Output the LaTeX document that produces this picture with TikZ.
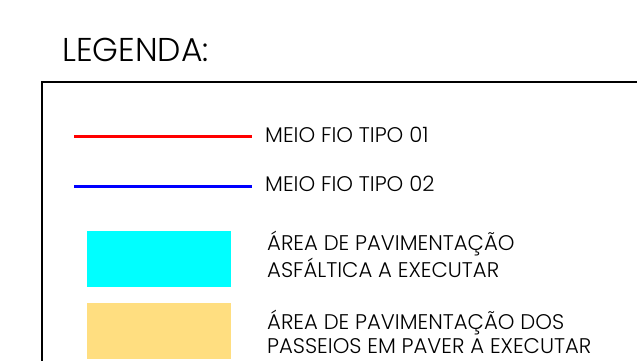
\documentclass[tikz,border=0pt]{standalone}
\usepackage{fontspec}
\setmainfont{Poppins}[UprightFont=* Light]
\definecolor{asfalto}{HTML}{00FFFF}
\definecolor{paver}{HTML}{FFDE80}
\definecolor{fio1}{HTML}{FF0000}
\definecolor{fio2}{HTML}{0000FF}
\begin{document}
\begin{tikzpicture}[x=1pt,y=-1pt,
  itemtext/.style={anchor=base west,inner sep=0pt,font=\fontsize{21.2}{21}\selectfont,text=black},
  titletext/.style={anchor=base west,inner sep=0pt,font=\fontsize{33}{33}\selectfont,text=black},
  fioline/.style={line width=3pt},
  swatch/.style={draw=none}]
\useasboundingbox (0,0) rectangle (637,361);
\fill[white] (0,0) rectangle (637,361);
\node[titletext] (title) at (62,62) {LEGENDA:};
\draw[line width=2.2pt] (42,380) -- (42,82) -- (660,82);
\coordinate (r1) at (74,136); \coordinate (r2) at (252,136);
\coordinate (b1) at (74,186); \coordinate (b2) at (252,186);
\draw[fioline,fio1] (r1) -- (r2);
\draw[fioline,fio2] (b1) -- (b2);
\node[itemtext] (t1) at (265,142) {MEIO FIO TIPO 01};
\node[itemtext] (t2) at (265,191) {MEIO FIO TIPO 02};
\fill[swatch,asfalto] (87,231) rectangle (231,287);
\fill[swatch,paver] (87,303) rectangle (231,359);
\node[itemtext] (t3) at (267,250) {ÁREA DE PAVIMENTAÇÃO};
\node[itemtext] (t4) at (267,277) {ASFÁLTICA A EXECUTAR};
\node[itemtext] (t5) at (267,329.5) {ÁREA DE PAVIMENTAÇÃO DOS};
\node[itemtext] (t6) at (267,353) {PASSEIOS EM PAVER A EXECUTAR};
\end{tikzpicture}
\end{document}
